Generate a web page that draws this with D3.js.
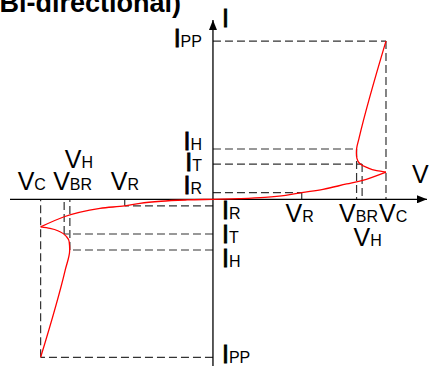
<!DOCTYPE html>
<html>
<head>
<meta charset="utf-8">
<script src="https://cdn.jsdelivr.net/npm/d3@7"></script>
<style>
  body { margin: 0; background: #fff; }
  svg { display: block; font-family: "Liberation Sans", Arial, sans-serif; }
</style>
</head>
<body>
<svg id="iv_svg" width="429" height="366"></svg>
<script>
// voltage levels (x) and current levels (y), positive and negative branch
const vNames = ["R", "BR", "H", "C"]
const vPos = [5.13, 8.62, 8.3, 10]
const vNeg = [-5.1, -8.6, -8.27, -9.96]

const iNames = ["R", "T", "H", "PP"]
const iPos = [4.2, 22.3, 31.8, 100]
const iNeg = [-4.1, -21.9, -32, -99.8]

// I-V curve as [V, I]
const snapNeg = [
  [-9.96, -99.8], [-8.54, -44.7], [-8.28, -32], [-8.31, -26.8],
  [-8.46, -23.6], [-8.84, -20.5], [-9.42, -18.3], [-9.96, -17.4],
]
const leakage = [
  [-9.96, -17.4], [-8.6, -11], [-6.53, -5.7], [-5.1, -4.1], [-4.22, -2.5],
  [-3, -1.2], [-1.5, -0.4], [0, 0], [1.5, 0.4], [3, 1.2], [4.2, 2.5],
  [5.13, 4.2], [6.36, 6.3], [7.73, 9.7], [8.6, 11.8], [10, 17.2],
]
const snapPos = [
  [10, 17.2], [9.46, 18.1], [8.88, 20.2], [8.48, 22.7], [8.32, 25.9],
  [8.29, 29.1], [8.3, 31.8], [8.44, 38.5], [10, 100],
]

const svg = d3.select("#iv_svg")

/**
 * Scales: axes cross at the origin
 */
const xScale = d3.scaleLinear().domain([-11.73, 12.37]).range([10, 427])
const yScale = d3.scaleLinear().domain([-105.3, 113.3]).range([366, 20])
const x0 = xScale(0)
const y0 = yScale(0)

// title, partly cut by the top edge
svg.append("text")
  .attr("x", 181)
  .attr("y", 12)
  .attr("text-anchor", "end")
  .attr("font-size", 27)
  .attr("font-weight", "bold")
  .text("Bi-directional)")

/**
 * Arrow head marker
 */
svg.append("defs")
  .append("marker")
  .attr("id", "arrow")
  .attr("viewBox", "0 0 10 8")
  .attr("refX", 10)
  .attr("refY", 4)
  .attr("markerWidth", 10)
  .attr("markerHeight", 8)
  .attr("markerUnits", "userSpaceOnUse")
  .attr("orient", "auto")
  .append("path")
  .attr("d", "M0,0L10,4L0,8Z")
  .attr("fill", "#000")

/**
 * Dashed guide lines
 */
const g_guides = svg.append("g")
  .attr("stroke", "#333")
  .attr("stroke-width", 1.2)
  .attr("stroke-dasharray", "8,4")
  .attr("fill", "none")

function drawGuides(vs, is) {
  vs.forEach((v, k) => {
    g_guides.append("line")
      .attr("x1", x0).attr("y1", yScale(is[k]))
      .attr("x2", xScale(v)).attr("y2", yScale(is[k]))
    g_guides.append("line")
      .attr("x1", xScale(v)).attr("y1", yScale(is[k]))
      .attr("x2", xScale(v)).attr("y2", y0)
  })
}
drawGuides(vPos, iPos)
drawGuides(vNeg, iNeg)

/**
 * Axes
 */
svg.append("line")
  .attr("x1", xScale.range()[0]).attr("y1", y0)
  .attr("x2", xScale.range()[1]).attr("y2", y0)
  .attr("stroke", "#000")
  .attr("stroke-width", 1.3)
  .attr("marker-end", "url(#arrow)")

svg.append("line")
  .attr("x1", x0).attr("y1", yScale.range()[0] + 5)
  .attr("x2", x0).attr("y2", yScale.range()[1])
  .attr("stroke", "#000")
  .attr("stroke-width", 1.3)
  .attr("marker-end", "url(#arrow)")

/**
 * Curve: leakage part is a function of V, snapback parts a function of I
 */
const lineX = d3.line()
  .x((d) => xScale(d[0]))
  .y((d) => yScale(d[1]))
  .curve(d3.curveMonotoneX)

const lineY = d3.line()
  .x((d) => xScale(d[0]))
  .y((d) => yScale(d[1]))
  .curve(d3.curveMonotoneY)

const g_curve = svg.append("g")
  .attr("fill", "none")
  .attr("stroke", "#f00")
  .attr("stroke-width", 1.3)

g_curve.append("path").attr("d", lineY(snapNeg))
g_curve.append("path").attr("d", lineX(leakage))
g_curve.append("path").attr("d", lineY(snapPos))

/**
 * Labels: big letter with a smaller suffix on the same baseline
 */
function label(x, y, main, sub, anchor) {
  let t = svg.append("text")
    .attr("x", x)
    .attr("y", y)
    .attr("text-anchor", anchor || "start")
    .attr("font-size", 25)
  let m = t.append("tspan").text(main)
  if (main === "I") m.attr("stroke", "#000").attr("stroke-width", 0.8)
  if (sub) t.append("tspan").attr("font-size", 16).text(sub)
}

// axis names
label(x0 + 9, 27, "I")
label(xScale.range()[1] - 15, 183, "V")

// current labels, upper left of the I axis
const iPosOff = [1.5, 7, 1, 5.7]
iPos.forEach((v, k) => label(x0 - 11, yScale(v) + iPosOff[k], "I", iNames[k], "end"))

// current labels, lower right of the I axis
const iNegOff = [13.6, 8.7, 16.7, 6]
iNeg.forEach((v, k) => label(x0 + 9, yScale(v) + iNegOff[k], "I", iNames[k]))

// voltage labels, positive side (below the axis)
label(xScale(vPos[0]) - 2, y0 + 22.5, "V", vNames[0], "middle")
label(xScale(vPos[1]) - 23, y0 + 22.5, "V", vNames[1])
label(xScale(vPos[3]) - 7, y0 + 22.5, "V", vNames[3])
label(xScale(vPos[2]) - 3, y0 + 46.5, "V", vNames[2])

// voltage labels, negative side (above the axis)
label(xScale(vNeg[0]) - 14, y0 - 9.5, "V", vNames[0])
label(xScale(vNeg[1]) - 11, y0 - 9.5, "V", vNames[1])
label(xScale(vNeg[3]) - 23, y0 - 9.5, "V", vNames[3])
label(xScale(vNeg[2]) - 5, y0 - 31, "V", vNames[2])
</script>
</body>
</html>
